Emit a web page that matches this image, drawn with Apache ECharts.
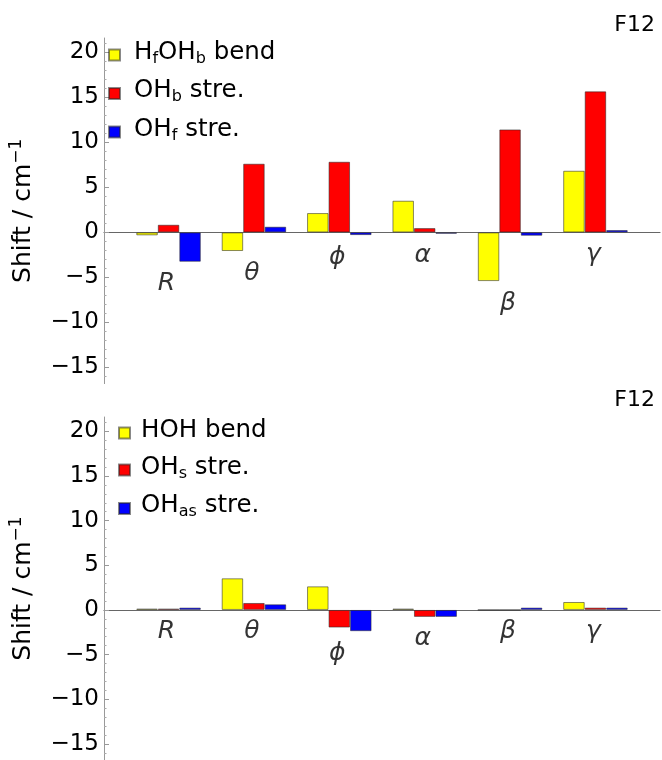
<!DOCTYPE html>
<html>
<head>
<meta charset="utf-8">
<script src="https://cdn.jsdelivr.net/npm/echarts@6/dist/echarts.min.js"></script>
<style>html,body{margin:0;padding:0;background:#fff;}#c{width:662px;height:760px;}</style>
</head>
<body>
<div id="c"></div>
<script>
// ---- data ----
const categories = ['R', 'θ', 'ϕ', 'α', 'β', 'γ'];
const panelLabel = 'F12';
const yAxisNameMain = 'Shift / cm';
const yAxisNameSup = '−1';

const topNames = ['H_{f}OH_{b} bend', 'OH_{b} stre.', 'OH_{f} stre.'];
const topYellow = [-0.33, -2.07, 2.15, 3.52, -5.41, 6.85];
const topRed    = [0.85, 7.63, 7.85, 0.48, 11.44, 15.67];
const topBlue   = [-3.26, 0.63, -0.30, -0.15, -0.37, 0.26];

const botNames = ['HOH bend', 'OH_{s} stre.', 'OH_{as} stre.'];
const botYellow = [0.15, 3.54, 2.64, 0.15, 0.0, 0.89];
const botRed    = [0.15, 0.78, -1.97, -0.78, 0.0, 0.26];
const botBlue   = [0.26, 0.63, -2.38, -0.78, 0.26, 0.26];

const yTickValues = [-15, -10, -5, 0, 5, 10, 15, 20];
const yMinorValues = [-16, -14, -13, -12, -11, -9, -8, -7, -6, -4, -3, -2, -1, 1, 2, 3, 4, 6, 7, 8, 9, 11, 12, 13, 14, 16, 17, 18, 19, 21];
const yMin = -16.8, yMax = 21.6;
const xMin = 0.244, xMax = 6.756;

// ---- build ----
const FONT = 'DejaVu Sans';
const colors = ['#ffff00', '#ff0000', '#0000ff'];
const richStyles = {
  n: {fontFamily: FONT, fontSize: 24.5, lineHeight: 28, color: '#000', verticalAlign: 'middle'},
  s: {fontFamily: FONT, fontSize: 16, lineHeight: 16, color: '#000', verticalAlign: 'bottom'}
};
function toRich(name) {
  const parts = [];
  const re = /_\{([^}]*)\}/g;
  let last = 0, m;
  while ((m = re.exec(name)) !== null) {
    if (m.index > last) parts.push('{n|' + name.slice(last, m.index) + '}');
    parts.push('{s|' + m[1] + '}');
    last = re.lastIndex;
  }
  if (last < name.length) parts.push('{n|' + name.slice(last) + '}');
  return parts.join('');
}
const fmtTick = v => v < 0 ? '\u2212' + Math.abs(v) : String(v);

const grids = [
  {left: 100, right: 2, top: 38, height: 345.6},
  {left: 100, right: 2, top: 417, height: 344.4}
];
const xAxes = [], yAxes = [], series = [], legends = [], titles = [];
const panels = [
  {names: topNames, vals: [topYellow, topRed, topBlue], legendLeft: 108, legendTop: 40, textPad: 9, titleTop: 9},
  {names: botNames, vals: [botYellow, botRed, botBlue], legendLeft: 118, legendTop: 418, textPad: 6, titleTop: 384}
];
panels.forEach((p, gi) => {
  xAxes.push({
    type: 'value', gridIndex: gi, min: xMin, max: xMax,
    axisLine: {show: true, onZero: true, lineStyle: {color: '#666', width: 1.2}},
    axisTick: {show: false}, axisLabel: {show: false}, splitLine: {show: false}
  });
  yAxes.push({
    type: 'value', gridIndex: gi, min: yMin, max: yMax, position: 'left',
    name: '{n|' + yAxisNameMain + '}{p|' + yAxisNameSup + '}', nameLocation: 'middle', nameGap: 66,
    nameTextStyle: {
      fontFamily: FONT, fontSize: 25, color: '#000',
      rich: {
        n: {fontFamily: FONT, fontSize: 25, lineHeight: 30, color: '#000'},
        p: {fontFamily: FONT, fontSize: 17, lineHeight: 17, color: '#000', verticalAlign: 'top'}
      }
    },
    axisLine: {show: true, onZero: false, lineStyle: {color: '#999', width: 1}},
    axisTick: {show: true, inside: true, length: 5, customValues: yTickValues, lineStyle: {color: '#999'}},
    axisLabel: {show: true, customValues: yTickValues, formatter: fmtTick, fontFamily: FONT, fontSize: 23, color: '#000', margin: 5},
    splitLine: {show: false}
  });
  yAxes.push({
    type: 'value', gridIndex: gi, min: yMin, max: yMax, position: 'left',
    axisLine: {show: false, onZero: false},
    axisTick: {show: true, inside: true, length: 2.5, customValues: yMinorValues, lineStyle: {color: '#aaa'}},
    axisLabel: {show: false}, splitLine: {show: false}
  });
  const mainY = gi * 2;
  p.vals.forEach((arr, si) => {
    series.push({
      type: 'bar', name: p.names[si], xAxisIndex: gi, yAxisIndex: mainY,
      barWidth: 21.5, barGap: '0%',
      itemStyle: {color: colors[si], borderColor: 'rgba(40,40,40,0.55)', borderWidth: 1},
      data: arr.map((v, i) => [i + 1, v]),
      animation: false
    });
  });
  // category labels under the lowest bar of each group
  series.push({
    type: 'scatter', xAxisIndex: gi, yAxisIndex: mainY, symbolSize: 1,
    itemStyle: {color: 'rgba(0,0,0,0)'}, silent: true, animation: false,
    data: categories.map((c, i) => [i + 1, Math.min(0, p.vals[0][i], p.vals[1][i], p.vals[2][i])]),
    label: {
      show: true, position: 'bottom', distance: 9, offset: [-2, 0],
      formatter: params => categories[params.dataIndex],
      fontFamily: FONT, fontStyle: 'italic', fontSize: 25, lineHeight: 25, color: '#000'
    }
  });
  legends.push({
    orient: 'vertical', left: p.legendLeft, top: p.legendTop, padding: 0,
    itemWidth: 11, itemHeight: 11, itemGap: 12, icon: 'rect',
    data: p.names,
    formatter: name => toRich(name),
    textStyle: {fontFamily: FONT, fontSize: 24.5, color: '#000', padding: [0, 0, 5, p.textPad], rich: richStyles}
  });
  titles.push({
    text: panelLabel, right: 2, top: p.titleTop,
    textStyle: {fontFamily: FONT, fontSize: 22, fontWeight: 'normal', color: '#000'}
  });
});

const chart = echarts.init(document.getElementById('c'), null, {renderer: 'canvas'});
chart.setOption({
  animation: false,
  backgroundColor: '#fff',
  title: titles,
  grid: grids,
  xAxis: xAxes,
  yAxis: yAxes,
  legend: legends,
  series: series
});
</script>
</body>
</html>
